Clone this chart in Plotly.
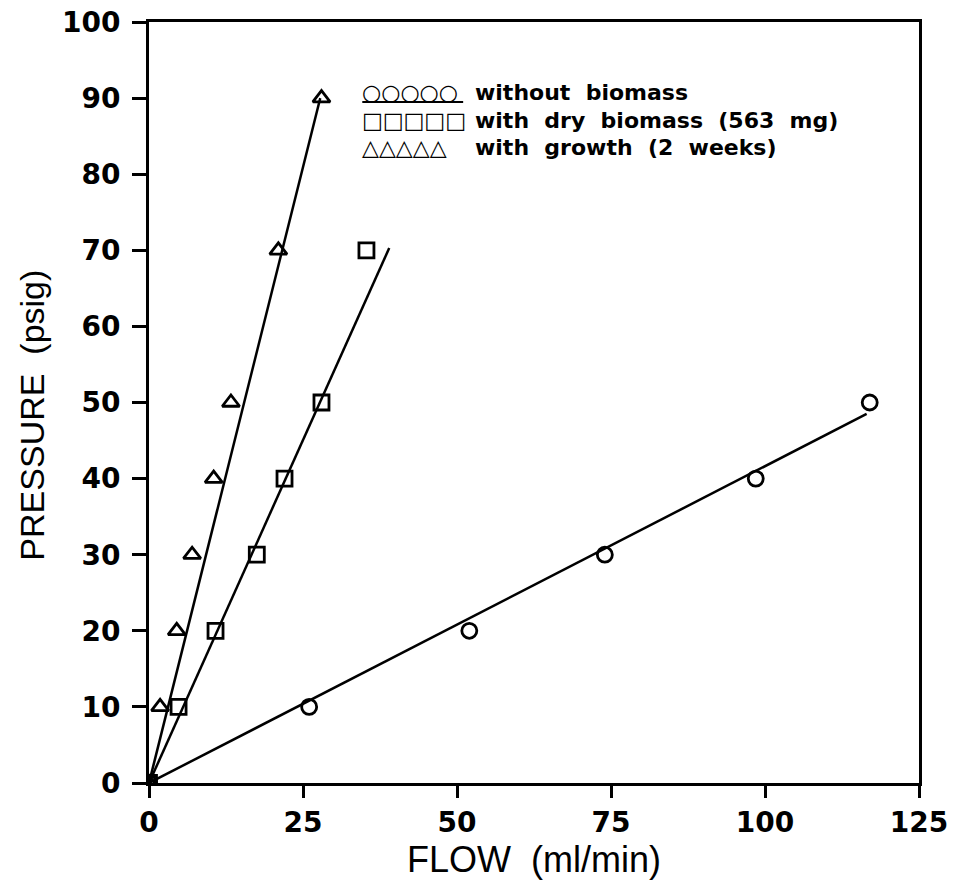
import plotly.graph_objects as go

# Data
circle_x = [0, 26, 52, 74, 98.5, 117]
circle_y = [0, 10, 20, 30, 40, 50]
square_x = [0, 4.8, 10.8, 17.5, 22, 28, 35.3]
square_y = [0, 10, 20, 30, 40, 50, 70]
tri_x = [0, 1.8, 4.5, 7, 10.5, 13.3, 21, 28]
tri_y = [0, 10, 20, 30, 40, 50, 70, 90]

# fitted lines (start/end points)
circle_fit_x = [0, 116.5]
circle_fit_y = [0, 48.5]
square_fit_x = [0, 39]
square_fit_y = [0, 70.3]
tri_fit_x = [0, 27.8]
tri_fit_y = [0, 90]

legend_labels = ["without  biomass", "with  dry  biomass  (563  mg)", "with  growth  (2  weeks)"]
legend_symbols = ["○○○○○", "□□□□□", "△△△△△"]

x_ticks = [0, 25, 50, 75, 100, 125]
y_ticks = [0, 10, 20, 30, 40, 50, 60, 70, 80, 90, 100]

fig = go.Figure()

for fx, fy in [(circle_fit_x, circle_fit_y), (square_fit_x, square_fit_y), (tri_fit_x, tri_fit_y)]:
    fig.add_trace(go.Scatter(x=fx, y=fy, mode="lines",
                             line=dict(color="black", width=2.5),
                             showlegend=False, hoverinfo="skip"))

for xs, ys, sym in [(circle_x, circle_y, "circle-open"),
                    (square_x, square_y, "square-open"),
                    (tri_x, tri_y, "triangle-up-open")]:
    fig.add_trace(go.Scatter(x=xs, y=ys, mode="markers",
                             marker=dict(symbol=sym, size=15, color="black",
                                         line=dict(color="black", width=2.8)),
                             showlegend=False))

font_main = "DejaVu Sans"

# legend as annotations
row_y = [0.9075, 0.871, 0.8345]
for sym, lab, yy in zip(legend_symbols, legend_labels, row_y):
    fig.add_annotation(x=0.274, y=yy, xref="paper", yref="paper",
                       text="<b>" + sym + "</b>", showarrow=False, xanchor="left", yanchor="middle",
                       font=dict(family=font_main, size=22, color="black"))
    fig.add_annotation(x=0.421, y=yy, xref="paper", yref="paper",
                       text="<b>" + lab + "</b>", showarrow=False, xanchor="left", yanchor="middle",
                       font=dict(family=font_main, size=22, color="black"))
fig.add_shape(type="line", xref="paper", yref="paper",
              x0=0.277, x1=0.408, y0=0.895, y1=0.895,
              line=dict(color="black", width=2))

# y-axis title as rotated annotation
fig.add_annotation(x=-0.152, y=0.484, xref="paper", yref="paper",
                   text="PRESSURE  (psig)", textangle=-90, showarrow=False,
                   xanchor="center", yanchor="middle",
                   font=dict(family="Liberation Sans", size=34, color="black"))

tick_font = dict(family=font_main, size=28, color="black", weight="bold")

fig.update_xaxes(range=[0, 125], tickvals=x_ticks, ticks="outside", ticklen=12,
                 tickwidth=2.5, tickcolor="black", showline=True, linecolor="black",
                 linewidth=3, mirror=True, showgrid=False, zeroline=False,
                 automargin=False, ticklabeloverflow="allow",
                 tickfont=tick_font,
                 title=dict(text="FLOW  (ml/min)", standoff=2,
                            font=dict(family="Liberation Sans", size=36, color="black")))
fig.update_yaxes(range=[0, 100], tickvals=y_ticks, ticks="outside", ticklen=14,
                 tickwidth=2.5, tickcolor="black", showline=True, linecolor="black",
                 linewidth=3, mirror=True, showgrid=False, zeroline=False,
                 automargin=False, ticklabeloverflow="allow", ticklabelstandoff=6,
                 tickfont=tick_font)

fig.update_layout(width=956, height=884, plot_bgcolor="white", paper_bgcolor="white",
                  margin=dict(l=149, r=37, t=22, b=101), showlegend=False)

fig.write_html("out.html")
